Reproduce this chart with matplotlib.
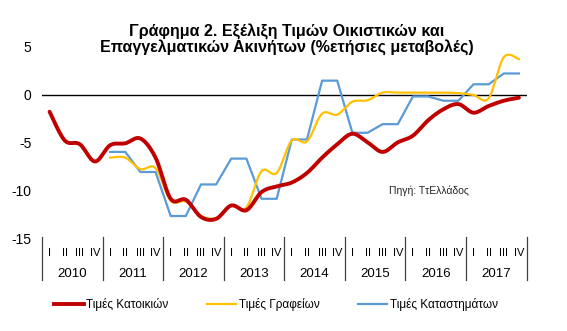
import numpy as np
import matplotlib
matplotlib.use("Agg")
import matplotlib.pyplot as plt
from matplotlib.lines import Line2D

plt.rcParams['font.family'] = ['Liberation Sans', 'DejaVu Sans']

years = ['2010', '2011', '2012', '2013', '2014', '2015', '2016', '2017']
quarters = ['I', 'II', 'III', 'IV']

# annual % change, quarterly, 2010Q1 .. 2017Q4 (None = no data)
residential = [-1.8, -4.8, -5.2, -7.0, -5.3, -5.1, -4.6, -6.6,
               -10.9, -11.0, -12.8, -13.0, -11.6, -12.1, -10.2, -9.6,
               -9.2, -8.2, -6.6, -5.2, -4.1, -5.0, -6.0, -5.0,
               -4.3, -2.7, -1.55, -1.0, -1.9, -1.2, -0.65, -0.33]
offices = [None, None, None, None, -6.6, -6.6, -7.8, -7.7,
           -11.1, -11.2, -12.7, -12.9, -11.6, -11.8, -8.0, -8.2,
           -4.8, -4.9, -2.0, -2.1, -0.75, -0.6, 0.2, 0.2,
           0.2, 0.2, 0.2, 0.15, -0.05, -0.4, 3.9, 3.7]
retail = [None, None, None, None, -6.0, -6.0, -8.1, -8.1,
          -12.7, -12.7, -9.4, -9.4, -6.7, -6.7, -10.9, -10.9,
          -4.7, -4.7, 1.45, 1.45, -4.0, -4.0, -3.1, -3.1,
          -0.2, -0.2, -0.65, -0.65, 1.07, 1.07, 2.2, 2.2]

labels = ['Τιμές Κατοικιών', 'Τιμές Γραφείων', 'Τιμές Καταστημάτων']
colors = ['#C00000', '#FFC000', '#5B9BD5']


def smooth(xs, ys, n=12):
    # Catmull-Rom curve through the points, like a spreadsheet "smoothed line"
    p = np.column_stack([xs, ys]).astype(float)
    p = np.vstack([p[0], p, p[-1]])
    out = []
    t = np.linspace(0, 1, n, endpoint=False)[:, None]
    for i in range(1, len(p) - 2):
        p0, p1, p2, p3 = p[i - 1], p[i], p[i + 1], p[i + 2]
        seg = 0.5 * ((2 * p1) + (-p0 + p2) * t +
                     (2 * p0 - 5 * p1 + 4 * p2 - p3) * t ** 2 +
                     (-p0 + 3 * p1 - 3 * p2 + p3) * t ** 3)
        out.append(seg)
    out.append(p[-2][None, :])
    out = np.vstack(out)
    return out[:, 0], out[:, 1]


def series(vals):
    x = np.array([i for i, v in enumerate(vals) if v is not None], dtype=float)
    y = np.array([v for v in vals if v is not None], dtype=float)
    return x, y


fig = plt.figure(figsize=(5.67, 3.31), dpi=100)
ax = fig.add_axes([42 / 567, 93 / 331, 484.5 / 567, 191.3 / 331])

ax.axhline(0, color='black', lw=1.0, zorder=1)

x, y = series(residential)
sx, sy = smooth(x, y)
ax.plot(sx, sy, color=colors[0], lw=2.8, solid_capstyle='round', zorder=4)

x, y = series(offices)
sx, sy = smooth(x, y)
ax.plot(sx, sy, color=colors[1], lw=1.6, zorder=3)

x, y = series(retail)
ax.plot(x, y, color=colors[2], lw=1.6, zorder=2)

n = len(residential)
ax.set_xlim(-0.5, n - 0.5)
ax.set_ylim(-15, 5)
ax.set_yticks([-15, -10, -5, 0, 5])
ax.set_yticklabels(['-15', '-10', '-5', '0', '5'], fontsize=10)
ax.tick_params(axis='y', length=0, pad=7.5)
ax.set_xticks([])
for s in ax.spines.values():
    s.set_visible(False)

# category axis: quarters under years, with year separators
trans = ax.get_xaxis_transform()
for k in range(len(years) + 1):
    ax.plot([4 * k - 0.5] * 2, [0.007, -0.22], transform=trans, color='#404040',
            lw=0.9, clip_on=False)
for i in range(n):
    ax.text(i, -0.08, quarters[i % 4], transform=trans, ha='center', va='center',
            fontsize=8)
for k, yr in enumerate(years):
    ax.text(4 * k + 1.5, -0.188, yr, transform=trans, ha='center', va='center',
            fontsize=9.5)

ax.text(429 / 567, 1 - 190.7 / 331, 'Πηγή: ΤτΕλλάδος', transform=fig.transFigure,
        ha='center', va='center', fontsize=7.5, color='#222222')

fig.text(287 / 567, 1 - 31.7 / 331, 'Γράφημα 2. Εξέλιξη Τιμών Οικιστικών και',
         ha='center', va='center', fontsize=11.5, fontweight='bold')
fig.text(287 / 567, 1 - 47.5 / 331, 'Επαγγελματικών Ακινήτων (%ετήσιες μεταβολές)',
         ha='center', va='center', fontsize=11.5, fontweight='bold')

handles = [Line2D([], [], color=colors[0], lw=2.8),
           Line2D([], [], color=colors[1], lw=1.6),
           Line2D([], [], color=colors[2], lw=1.6)]
fig.legend(handles, labels, loc='center', ncol=3, frameon=False, fontsize=8.5,
           bbox_to_anchor=(276 / 567, 1 - 304.5 / 331), handlelength=2.5,
           handletextpad=0.25, columnspacing=3.2, borderaxespad=0)

fig.savefig('out.png', dpi=100)
